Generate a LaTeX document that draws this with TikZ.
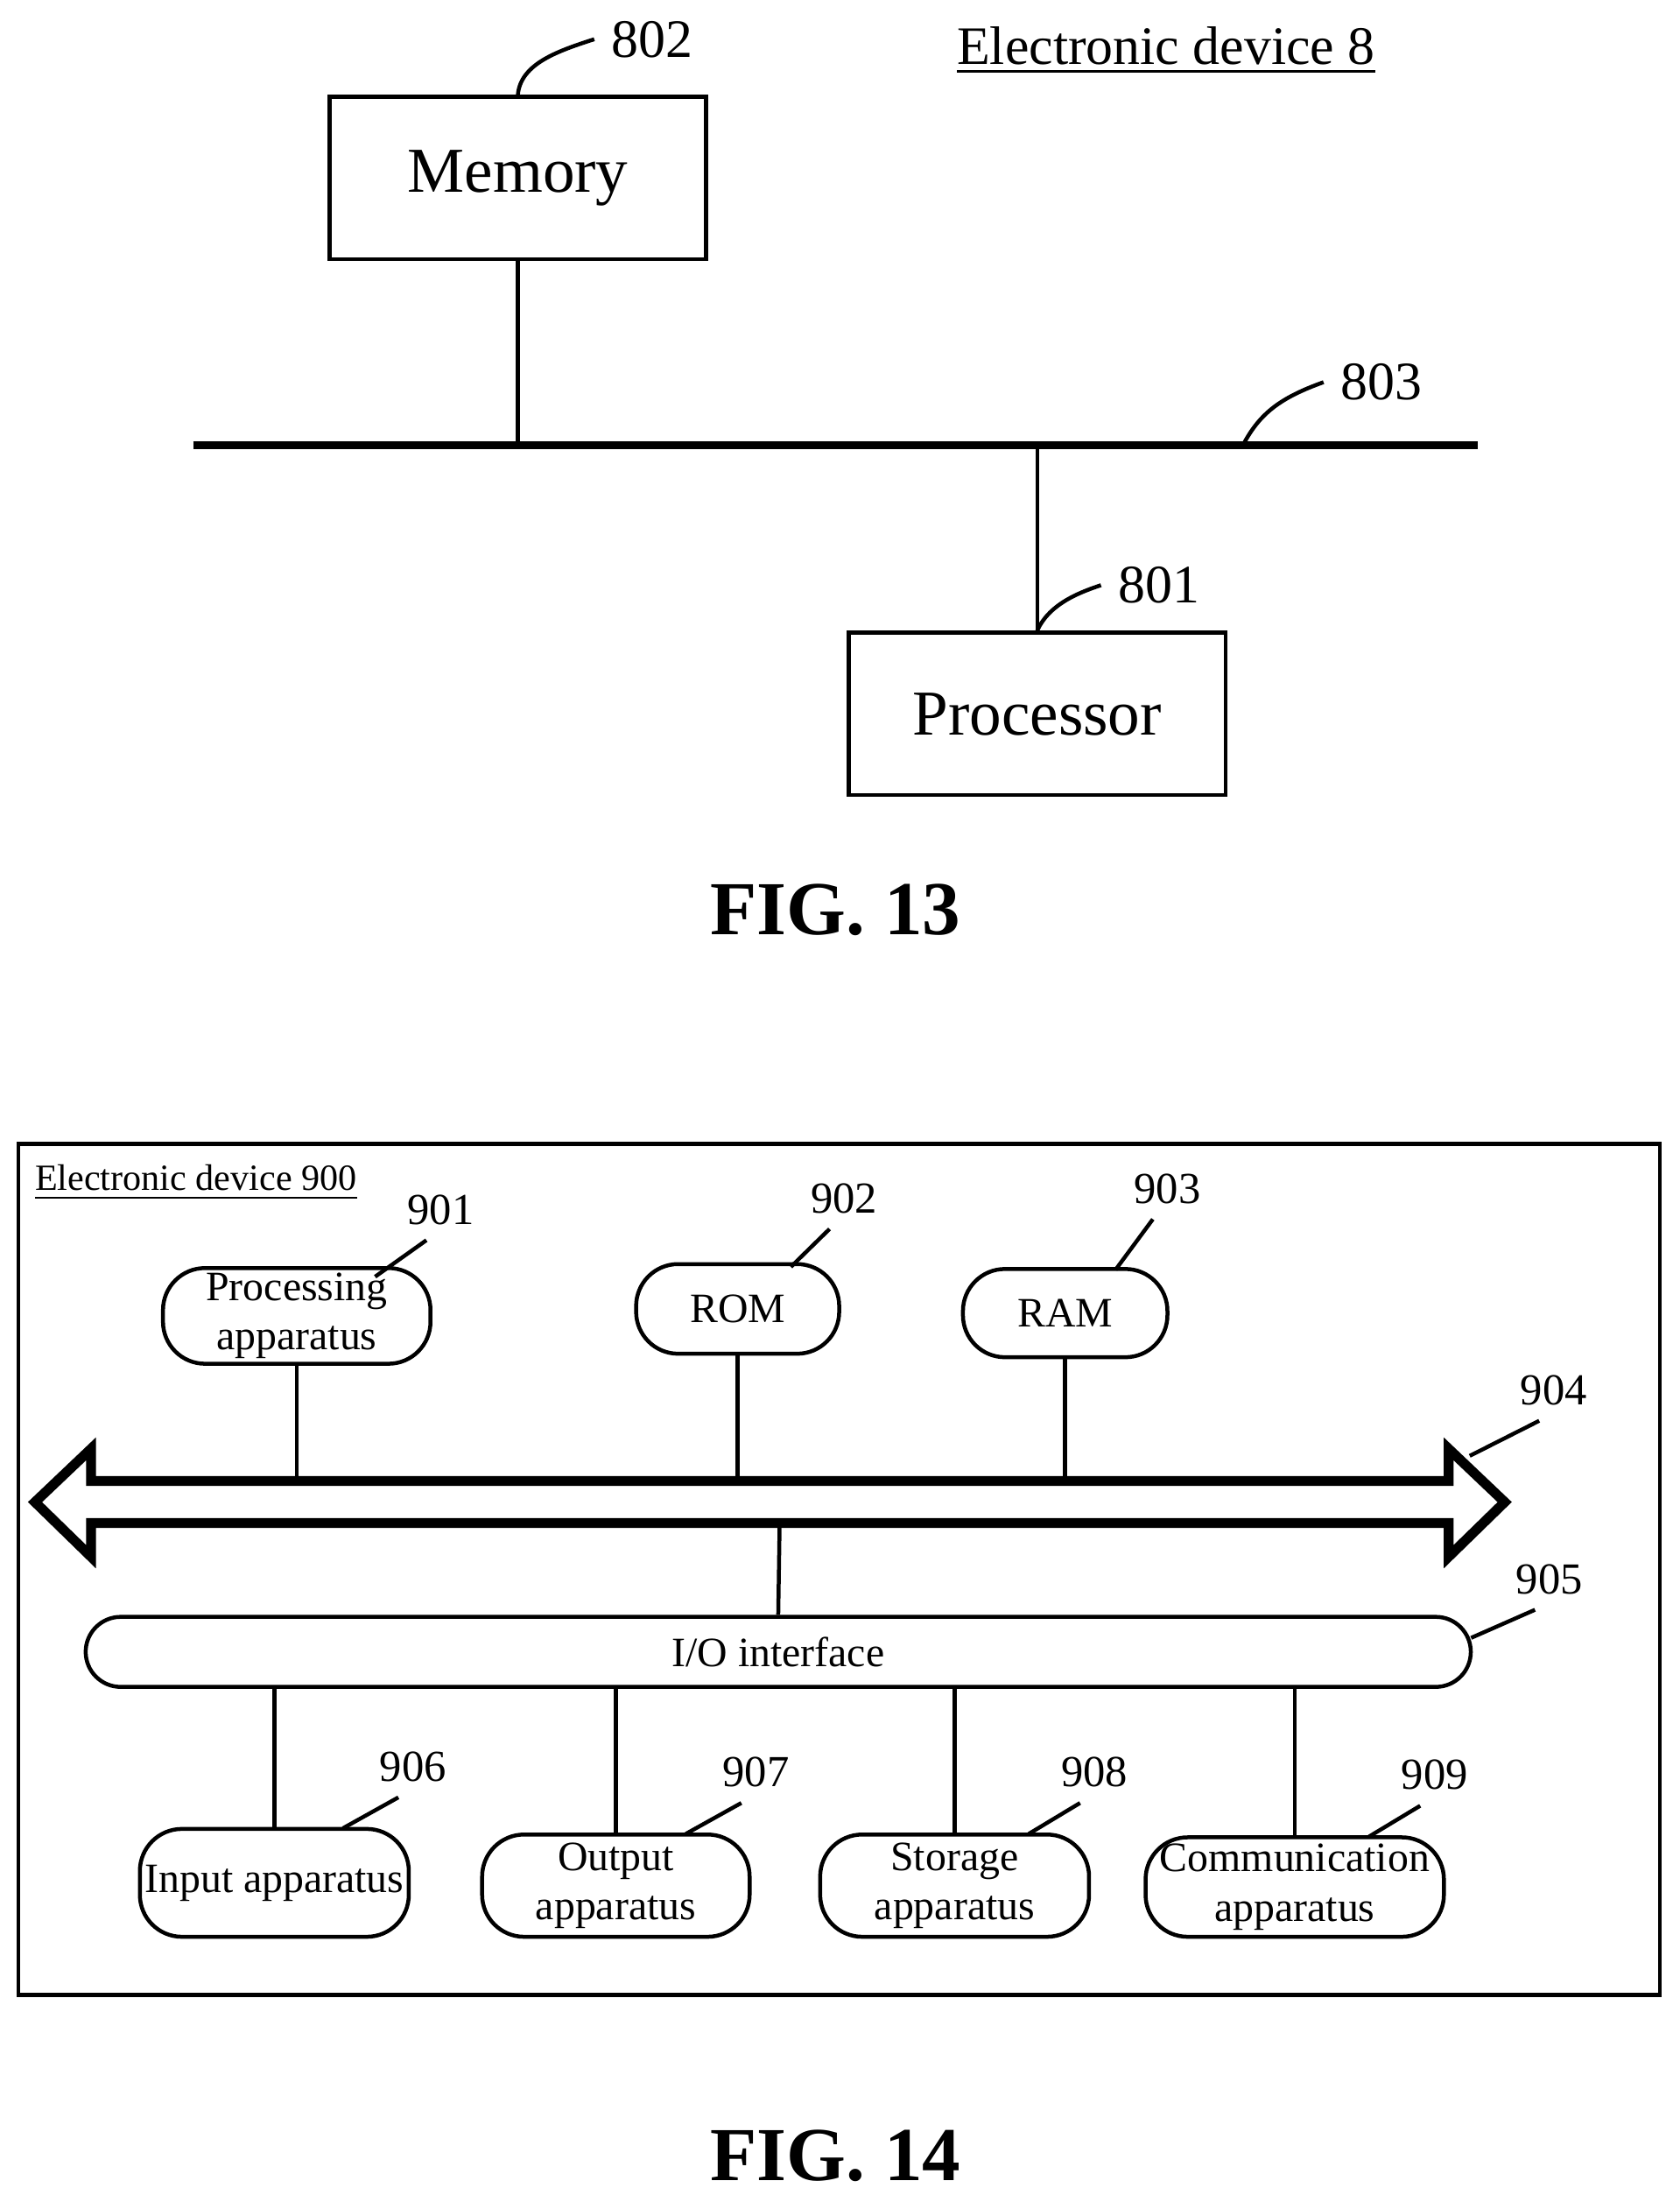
\documentclass[tikz,border=0pt]{standalone}
\usepackage{fontspec}
\setmainfont{Liberation Serif}
\usetikzlibrary{positioning}
\tikzset{
box/.style={draw, thick, minimum width=2.69cm, minimum height=1.16cm, font=\fontsize{13}{15}\selectfont},
unit/.style={draw, thick, rounded corners=0.3cm, align=center, inner sep=1pt, font=\fontsize{8.5}{10}\selectfont},
num/.style={font=\fontsize{11}{13}\selectfont},
smallnum/.style={inner sep=0pt, font=\fontsize{9}{11}\selectfont},
leader/.style={thick},
figlabel/.style={font=\fontsize{15.5}{18}\selectfont\bfseries},
}
\begin{document}
\begin{tikzpicture}[x=0.01cm, y=-0.01cm]
    \useasboundingbox (0,0) rectangle (1200,1568);

    %FIG. 13
    \node[box] (mem)  at (370,127) {Memory};
    \node[box] (proc) at (741,510) {Processor};
    \node[font=\fontsize{11}{13}\selectfont] (dev8) at (833,36) {\underline{Electronic device 8}};
    \coordinate (busl) at (138,318);
    \coordinate (busr) at (1056,318);
    \draw[line width=1.5pt] (busl)--(busr);
    \coordinate (memb) at (mem.south |- busl);
    \coordinate (procb) at (proc.north |- busl);
    \draw[thick] (mem.south)--(memb);
    \draw[thick] (proc.north)--(procb);

    \node[num] (n802) at (466,28) {802};
    \node[num] (n803) at (987,273) {803};
    \node[num] (n801) at (828,418) {801};
    \coordinate (l803) at (888,318);
    \draw[leader] (mem.north) .. controls (372,45) and (400,36) .. (n802.west);
    \draw[leader] (l803) .. controls (900,295) and (915,284) .. (n803.west);
    \draw[leader] (proc.north) .. controls (750,430) and (775,422) .. (n801.west);

    \node[figlabel] (fig13) at (597,650) {FIG. 13};

    %FIG. 14
    \draw[thick] (13,817) rectangle (1186,1425);
    \node[font=\fontsize{7.5}{9}\selectfont] (dev900) at (140,845) {\underline{Electronic device 900}};

    \node[unit, minimum width=1.91cm, minimum height=0.65cm] (cpu) at (212,940) {Processing\\apparatus};
    \node[unit, minimum width=1.45cm, minimum height=0.64cm] (rom) at (527,935) {ROM};
    \node[unit, minimum width=1.46cm, minimum height=0.63cm] (ram) at (761,938) {RAM};

    % double arrow bus
    \draw[line width=2pt, fill=white] (25,1073)--(65,1035)--(65,1058)--(1035,1058)--(1035,1035)
        --(1075,1073)--(1035,1112)--(1035,1088)--(65,1088)--(65,1112)--cycle;
    \coordinate (bus) at (557,1088);
    \draw[thick] (cpu.south)--(cpu.south |- 0,1058);
    \draw[thick] (rom.south)--(rom.south |- 0,1058);
    \draw[thick] (ram.south)--(ram.south |- 0,1058);

    \node[unit, rounded corners=0.25cm, minimum width=9.89cm, minimum height=0.5cm] (io) at (556,1180) {I/O interface};
    \draw[thick] (bus)--(io.north);

    \node[unit, minimum width=1.90cm, minimum height=0.77cm] (input) at (196,1345) {Input apparatus};
    \node[unit, minimum width=1.91cm, minimum height=0.73cm] (output) at (440,1347) {Output\\apparatus};
    \node[unit, minimum width=1.92cm, minimum height=0.73cm] (storage) at (682,1347) {Storage\\apparatus};
    \node[unit, minimum width=2.13cm, minimum height=0.71cm] (comm) at (925,1348) {Communication\\apparatus};

    \foreach \n in {input, output, storage, comm}
        \draw[thick] (\n.north |- io.south)--(\n.north);

    \node[smallnum] (n901) at (315,864) {901};
    \node[smallnum] (n902) at (603,856) {902};
    \node[smallnum] (n903) at (834,849) {903};
    \node[smallnum] (n904) at (1110,993) {904};
    \node[smallnum] (n905) at (1107,1128) {905};
    \node[smallnum] (n906) at (295,1262) {906};
    \node[smallnum] (n907) at (540,1266) {907};
    \node[smallnum] (n908) at (782,1266) {908};
    \node[smallnum] (n909) at (1025,1268) {909};

    \coordinate (l901) at (268,912);
    \coordinate (l902) at (565,905);
    \coordinate (l903) at (797,907);
    \coordinate (l904) at (1050,1040);
    \coordinate (l905) at (1051,1170);
    \coordinate (l906) at (245,1306);
    \coordinate (l907) at (490,1310);
    \coordinate (l908) at (735,1310);
    \coordinate (l909) at (978,1312);
    \foreach \k in {901,902,903,904,905,906,907,908,909}
        \draw[leader] (l\k)--([xshift=4,yshift=-3]n\k.south west);

    \node[figlabel] (fig14) at (597,1540) {FIG. 14};
\end{tikzpicture}
\end{document}
